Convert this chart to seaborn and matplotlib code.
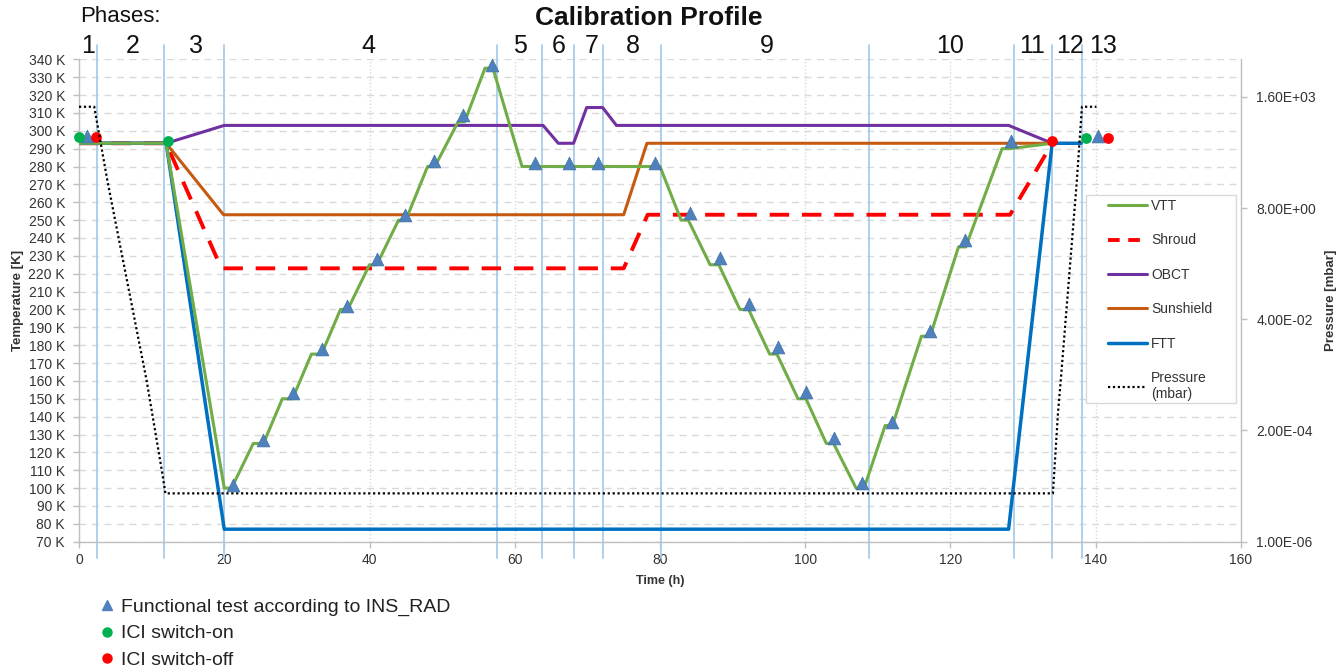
import numpy as np
import pandas as pd
import matplotlib
matplotlib.use("Agg")
import matplotlib.pyplot as plt
import seaborn as sns
from matplotlib.lines import Line2D
from matplotlib.patches import Rectangle
from matplotlib.ticker import FixedLocator, NullLocator, FuncFormatter

# ---------------- data ----------------
vtt_h = [0, 12, 20, 21, 24, 25.4, 28, 29.4, 32, 33.4, 36, 37, 40, 41, 44, 45, 48, 49,
         52.2, 53.1, 55.9, 57, 61, 80, 82.9, 83.9, 86.9, 88.1, 91, 92.2, 95.1, 96.1,
         99, 100.1, 102.9, 103.9, 107, 108.1, 111, 112, 116, 117.2, 121.1, 122.1,
         127.1, 128.2, 134]
vtt_t = [293, 293, 100, 100, 125, 125, 150, 150, 175, 175, 200, 200, 225, 225, 250, 250, 280, 280,
         305, 305, 335, 335, 280, 280, 250, 250, 225, 225, 200, 200, 175, 175,
         150, 150, 125, 125, 100, 100, 135, 135, 185, 185, 235, 235,
         290, 290, 293]

shroud_h = [0, 12, 19.6, 75, 78.3, 128.2, 134]
shroud_t = [293, 293, 223, 223, 253, 253, 293]

obct_h = [0, 12, 20, 63.9, 66, 68.1, 69.9, 72.1, 74, 128, 134]
obct_t = [293, 293, 303, 303, 293, 293, 313, 313, 303, 303, 293]

sun_h = [0, 12, 19.9, 75, 78.2, 134]
sun_t = [293, 293, 253, 253, 293, 293]

ftt_h = [0, 12, 20, 128, 134, 138]
ftt_t = [293, 293, 77, 77, 293, 293]

press_h = [0, 2.1, 3.9, 9.3, 11.4, 11.9, 134.1, 134.8, 135.3, 137.4, 138.1, 140.1]
press_v = [1000, 1000, 30, 2.2e-3, 3e-5, 1e-5, 1e-5, 4.6e-4, 3.6e-3, 30, 1000, 1000]

tri_h = [1.1, 21.2, 25.4, 29.4, 33.4, 36.9, 41.0, 44.9, 48.9, 52.9, 56.8, 62.8, 67.5, 71.5,
         79.3, 84.1, 88.2, 92.3, 96.2, 100.1, 103.9, 107.8, 112.0, 117.2, 122.0, 128.3, 140.3]
tri_t = [297, 102, 127, 153, 178, 202, 228, 253, 283, 309, 337, 282, 282, 282,
         282, 254, 229, 203, 179, 154, 128, 103, 137, 188, 239, 294, 297]

on_h = [0, 12.3, 138.7]
on_t = [296.5, 294, 296]
off_h = [2.4, 134, 141.7]
off_t = [296.5, 294, 296]

phase_bounds = [2.5, 11.7, 20, 57.6, 63.8, 68.1, 72.2, 80.1, 108.8, 128.8, 134, 138.1]
phase_labels = ["1", "2", "3", "4", "5", "6", "7", "8", "9", "10", "11", "12", "13"]
phase_label_x = [1.2, 7.4, 16.1, 39.8, 60.7, 66.1, 70.6, 76.2, 94.7, 119.9, 131.2, 136.4, 141.0]

temp_ticks = list(range(70, 341, 10))
time_ticks = [0, 20, 40, 60, 80, 100, 120, 140, 160]
press_ticks = [1e-6, 2e-4, 4e-2, 8e0, 1.6e3]

# ---------------- style ----------------
sns.set_theme(style="white")
plt.rcParams["font.family"] = ["Liberation Sans", "DejaVu Sans"]

C_VTT = "#70AD47"
C_SHR = "#FF0000"
C_OBCT = "#7030A0"
C_SUN = "#C55A11"
C_FTT = "#0070C0"
C_TRI = "#4F81BD"
C_ON = "#00B050"
C_OFF = "#FF0000"
GRID = "#D9D9D9"
SPINE = "#BFBFBF"
TXT = "#333333"

W, H = 1341, 667
fig = plt.figure(figsize=(W / 100, H / 100), dpi=100)
fig.patch.set_facecolor("white")
L, R, T, B = 79, 1241, 59.3, 541.7
ax = fig.add_axes([L / W, 1 - B / H, (R - L) / W, (B - T) / H])
ax2 = ax.twinx()

# grid
ax.set_xlim(0, 160)
ax.set_ylim(70, 340)
ax.yaxis.set_major_locator(FixedLocator(temp_ticks))
ax.xaxis.set_major_locator(FixedLocator(time_ticks))
ax.set_yticklabels([f"{t} K" for t in temp_ticks])
ax.grid(axis="y", color=GRID, linestyle=(0, (5, 4)), linewidth=1.0, zorder=0)
ax.grid(axis="x", color=GRID, linestyle=(0, (1, 1.5)), linewidth=1.0, zorder=0)
ax.set_axisbelow(True)

# phase lines
for b in phase_bounds:
    ax.axvline(b, ymin=-0.034, ymax=1.03, color="#A9CBEA", linewidth=1.3,
               clip_on=False, zorder=1.5)

# series
def line(h, v, color, lw, label, axis, ls="-", z=2):
    df = pd.DataFrame({"h": h, "v": v})
    sns.lineplot(data=df, x="h", y="v", ax=axis, color=color, linewidth=lw,
                 linestyle=ls, label=label, sort=False, estimator=None, zorder=z,
                 legend=False)

line(vtt_h, vtt_t, C_VTT, 2.2, "VTT", ax, z=3)
line(shroud_h, shroud_t, C_SHR, 2.8, "Shroud", ax, ls=(0, (5, 3.3)), z=2.5)
line(obct_h, obct_t, C_OBCT, 2.2, "OBCT", ax, z=2.6)
line(sun_h, sun_t, C_SUN, 2.2, "Sunshield", ax, z=2.7)
line(ftt_h, ftt_t, C_FTT, 2.5, "FTT", ax, z=2.8)

n_before = len(ax.collections)
sns.scatterplot(x=tri_h, y=tri_t, ax=ax, marker="^", s=85, color=C_TRI,
                edgecolor="#3F6FA5", linewidth=0.5, zorder=5, legend=False)
sns.scatterplot(x=on_h, y=on_t, ax=ax, marker="o", s=60, color=C_ON,
                edgecolor=C_ON, linewidth=0, zorder=6, legend=False)
sns.scatterplot(x=off_h, y=off_t, ax=ax, marker="o", s=60, color=C_OFF,
                edgecolor=C_OFF, linewidth=0, zorder=6, legend=False)
for coll in ax.collections[n_before:]:
    coll.set_clip_on(False)

# pressure
ax2.set_yscale("log")
line(press_h, press_v, "black", 1.6, "Pressure\n(mbar)", ax2, ls=(0, (1, 1.2)), z=2)
ax2.set_ylim(1e-6, 1e-6 * 200 ** 4.338)
ax2.yaxis.set_major_locator(FixedLocator(press_ticks))
ax2.yaxis.set_minor_locator(NullLocator())
ax2.yaxis.set_major_formatter(FuncFormatter(lambda v, p: f"{v:.2E}"))
ax2.grid(False)

# spines / ticks
for s in ["top"]:
    ax.spines[s].set_visible(False)
    ax2.spines[s].set_visible(False)
ax.spines["right"].set_visible(False)
for a in (ax, ax2):
    for s in ["left", "bottom", "right"]:
        a.spines[s].set_color(SPINE)
        a.spines[s].set_linewidth(1.0)
ax2.spines["left"].set_visible(False)
ax2.spines["bottom"].set_visible(False)
ax.tick_params(axis="y", which="major", length=4, width=1, color=SPINE, pad=6,
               labelsize=10, labelcolor=TXT, left=True)
ax.tick_params(axis="x", which="major", length=4, width=1, color=SPINE, pad=4,
               labelsize=10, labelcolor=TXT, bottom=True)
ax2.tick_params(axis="y", which="major", length=4, width=1, color=SPINE, pad=7,
                labelsize=10, labelcolor=TXT, right=True)

ax.set_xlabel("Time (h)", fontsize=9, fontweight="bold", color=TXT)
ax.xaxis.set_label_coords(0.5, -0.068)
ax.set_ylabel("Temperature [K]", fontsize=9.5, fontweight="bold", color=TXT)
ax.yaxis.set_label_coords((24 - L) / (R - L), 0.5)
ax2.set_ylabel("Pressure [mbar]", fontsize=9.5, fontweight="bold", color=TXT)
ax2.yaxis.set_label_coords((1325 - L) / (R - L), 0.5)

# phase labels
for lab, xh in zip(phase_labels, phase_label_x):
    ax.text(xh, (B - 46) / (B - T), lab, transform=ax.get_xaxis_transform(),
            ha="center", va="center", fontsize=18, color="#111111", clip_on=False)
fig.text(80 / W, 1 - 16 / H, "Phases:", ha="left", va="center", fontsize=16,
         color="#111111")
fig.text(649 / W, 1 - 18 / H, "Calibration Profile", ha="center", va="center",
         fontsize=19, fontweight="bold", color="#111111")

# right legend (box drawn as rectangle)
handles = [
    Line2D([], [], color=C_VTT, lw=2.2),
    Line2D([], [], color=C_SHR, lw=2.8, linestyle=(0, (3, 2.2))),
    Line2D([], [], color=C_OBCT, lw=2.2),
    Line2D([], [], color=C_SUN, lw=2.2),
    Line2D([], [], color=C_FTT, lw=2.5),
    Line2D([], [], color="black", lw=1.6, linestyle=(0, (1, 1.2))),
]
labels = ["VTT", "Shroud", "OBCT", "Sunshield", "FTT", "Pressure\n(mbar)"]
box = Rectangle((1086 / W, 1 - 403 / H), 150 / W, 208 / H, transform=fig.transFigure,
                facecolor="white", edgecolor="#D9D9D9", linewidth=1.0, zorder=10,
                clip_on=False)
ax2.add_patch(box)
leg = ax2.legend(handles, labels, loc="upper left", bbox_to_anchor=(1108 / W, 1 - 199 / H),
                 bbox_transform=fig.transFigure, frameon=False, borderpad=0,
                 borderaxespad=0, fontsize=10, labelspacing=1.47, handlelength=2.8,
                 handletextpad=0.3, labelcolor=TXT)
leg.set_zorder(20)

# bottom legend
bh = [
    Line2D([], [], marker="^", color=C_TRI, linestyle="none", markersize=7.5),
    Line2D([], [], marker="o", color=C_ON, linestyle="none", markersize=6.5),
    Line2D([], [], marker="o", color=C_OFF, linestyle="none", markersize=6.5),
]
bl = ["Functional test according to INS_RAD", "ICI switch-on", "ICI switch-off"]
fig.legend(bh, bl, loc="upper left", bbox_to_anchor=(97 / W, 1 - 598.5 / H),
           bbox_transform=fig.transFigure, frameon=False, borderpad=0,
           borderaxespad=0, fontsize=14, labelspacing=0.44, handlelength=1.0,
           handletextpad=0.22, labelcolor="#222222")

fig.savefig("out.png", dpi=100, facecolor="white")
